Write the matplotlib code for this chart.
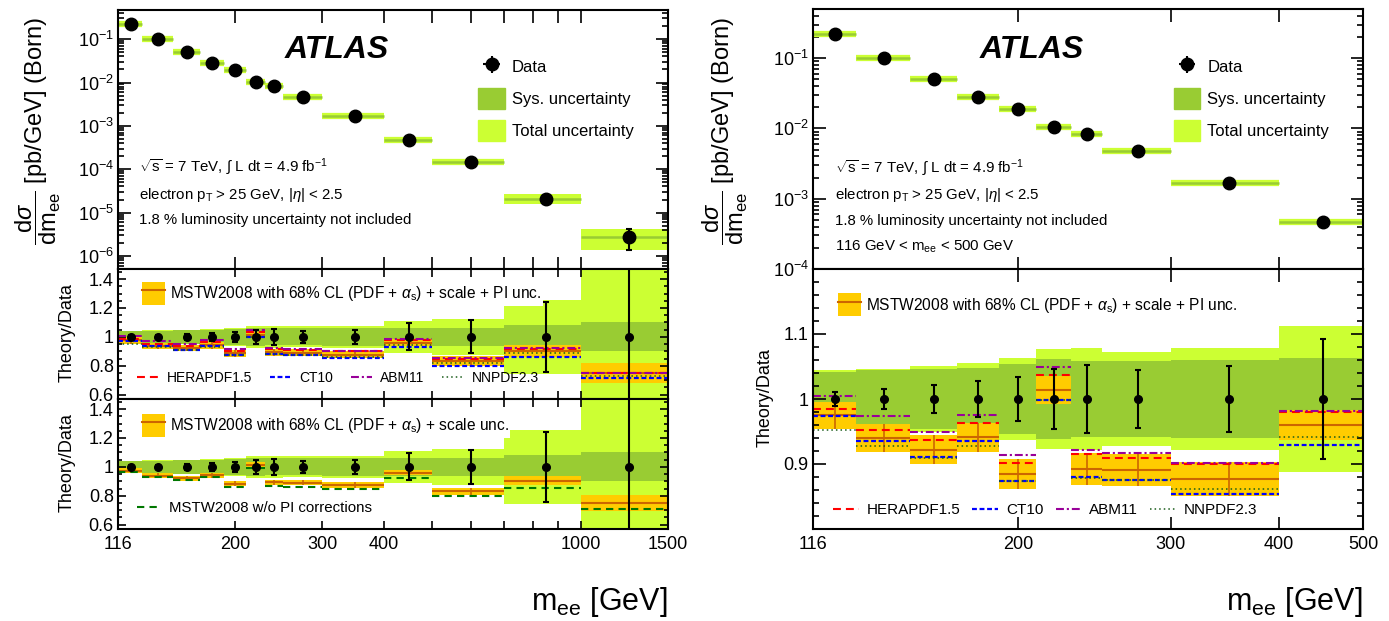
import numpy as np
import matplotlib
matplotlib.use('Agg')
import matplotlib.pyplot as plt
from matplotlib.patches import Patch
from matplotlib.lines import Line2D
from matplotlib.ticker import LogLocator, NullLocator, MultipleLocator, NullFormatter

plt.rcParams['font.family'] = ['Liberation Sans', 'DejaVu Sans']
plt.rcParams['mathtext.fontset'] = 'custom'
plt.rcParams['mathtext.rm'] = 'Liberation Sans'
plt.rcParams['mathtext.it'] = 'Liberation Sans:italic'
plt.rcParams['mathtext.bf'] = 'Liberation Sans:bold'

# bins in m_ee [GeV]
edges = np.array([116, 130, 150, 170, 190, 210, 230, 250, 300, 400, 500, 700, 1000, 1500])

# Born cross section dsigma/dm_ee [pb/GeV]
xsec = np.array([0.22, 0.10, 0.050, 0.028, 0.019, 0.0105, 0.0083, 0.0047, 0.0017,
                 4.7e-4, 1.45e-4, 2.1e-5, 2.8e-6])
# relative uncertainties
stat = np.array([0.011, 0.015, 0.021, 0.028, 0.034, 0.046, 0.053, 0.044, 0.051,
                 0.093, 0.115, 0.24, 0.50])
sys_unc = np.array([0.042, 0.044, 0.046, 0.048, 0.054, 0.062, 0.059, 0.059, 0.060,
                    0.063, 0.062, 0.080, 0.10])
tot_unc = np.array([0.044, 0.046, 0.051, 0.055, 0.063, 0.077, 0.078, 0.072, 0.078,
                    0.112, 0.125, 0.256, 0.52])

# Theory / Data
mstw = np.array([0.975, 0.940, 0.922, 0.941, 0.885, 1.014, 0.892, 0.891, 0.877,
                 0.960, 0.830, 0.905, 0.749])
mstw_pi_unc = np.array([0.021, 0.021, 0.022, 0.022, 0.023, 0.021, 0.025, 0.025, 0.026,
                        0.023, 0.035, 0.041, 0.070])
mstw_scale_unc = np.array([0.018, 0.018, 0.018, 0.018, 0.018, 0.017, 0.019, 0.019, 0.020,
                           0.018, 0.027, 0.031, 0.055])
herapdf = np.array([0.984, 0.953, 0.937, 0.963, 0.902, 1.037, 0.915, 0.910, 0.900,
                    0.980, 0.849, 0.918, 0.751])
ct10 = np.array([0.974, 0.935, 0.911, 0.936, 0.874, 0.999, 0.880, 0.875, 0.854,
                 0.929, 0.800, 0.862, 0.718])
abm11 = np.array([1.004, 0.974, 0.950, 0.976, 0.914, 1.050, 0.921, 0.917, 0.902,
                  0.982, 0.855, 0.925, 0.752])
nnpdf = np.array([0.953, 0.927, 0.910, 0.928, 0.874, 0.998, 0.879, 0.876, 0.862,
                  0.941, 0.822, 0.889, 0.729])
mstw_nopi = np.array([0.967, 0.929, 0.907, 0.931, 0.862, 0.991, 0.869, 0.864, 0.847,
                      0.922, 0.796, 0.856, 0.707])

xticks_L = [116, 200, 300, 400, 500, 600, 700, 800, 900, 1000, 1500]
xlabels_L = ['116', '200', '300', '400', '', '', '', '', '', '1000', '1500']
xticks_R = [116, 200, 300, 400, 500]
xlabels_R = ['116', '200', '300', '400', '500']

c_sys = '#99CC33'
c_tot = '#CCFF33'
c_band = '#FFCC00'
c_line = '#CC6600'

lo = edges[:-1]
hi = edges[1:]
wid = hi - lo
mid = 0.5 * (lo + hi)

pdf_styles = [
    ('HERAPDF1.5', herapdf, '#FF0000', 1.5, (0, (3.8, 2.4))),
    ('CT10', ct10, '#0000FF', 1.6, (0, (2.2, 1.2))),
    ('ABM11', abm11, '#990099', 1.5, (0, (3.8, 1.4, 1.0, 1.4))),
    ('NNPDF2.3', nnpdf, '#1A5C1A', 1.1, (0, (1, 2))),
]

fig = plt.figure(figsize=(13.89, 6.21), dpi=100)
W, H = 1389.0, 621.0


def box(x0, x1, y0, y1):
    return [x0 / W, 1 - y1 / H, (x1 - x0) / W, (y1 - y0) / H]


def style_axis(ax, xmin, xmax, ticks, labels, show_labels, ticklen):
    ax.set_xscale('log')
    ax.set_xlim(xmin, xmax)
    ax.set_xticks(ticks)
    if show_labels:
        ax.set_xticklabels(labels, fontsize=17)
    else:
        ax.set_xticklabels([''] * len(ticks))
    ax.xaxis.set_minor_locator(NullLocator())
    ax.tick_params(axis='both', which='both', direction='in', top=True, right=True,
                   width=1.2, labelsize=13)
    ax.tick_params(axis='both', which='major', length=ticklen)
    ax.tick_params(axis='both', which='minor', length=ticklen / 2)
    ax.tick_params(axis='x', pad=5)
    ax.tick_params(axis='y', pad=3)
    for s in ax.spines.values():
        s.set_linewidth(1.5)


def draw_top(ax, n):
    v = xsec[:n]
    ax.bar(lo[:n], 2 * v * tot_unc[:n], bottom=v * (1 - tot_unc[:n]), width=wid[:n],
           align='edge', color=c_tot, lw=0)
    ax.bar(lo[:n], 2 * v * sys_unc[:n], bottom=v * (1 - sys_unc[:n]), width=wid[:n],
           align='edge', color=c_sys, lw=0)
    ax.hlines(v, lo[:n], hi[:n], color=c_tot, lw=4.5, capstyle='butt')
    ax.hlines(v, lo[:n], hi[:n], color=c_sys, lw=1.8, capstyle='butt')
    ax.errorbar(mid[:n], v, yerr=v * stat[:n], fmt='o', color='k', ms=9,
                elinewidth=1.5, capsize=2.5, capthick=1.5)
    ax.set_yscale('log')
    ax.yaxis.set_major_locator(LogLocator(base=10, numticks=20))
    ax.yaxis.set_minor_locator(LogLocator(base=10, subs=np.arange(2, 10), numticks=20))
    ax.yaxis.set_minor_formatter(NullFormatter())

    hd = ax.errorbar([np.nan], [np.nan], xerr=[1], yerr=[1], fmt='o', color='k', ms=9,
                     elinewidth=1.5)
    handles = [hd, Patch(color=c_sys), Patch(color=c_tot)]
    return handles


def draw_ratio(ax, n, unc, lines):
    ax.bar(lo[:n], 2 * tot_unc[:n], bottom=1 - tot_unc[:n], width=wid[:n],
           align='edge', color=c_tot, lw=0)
    ax.bar(lo[:n], 2 * sys_unc[:n], bottom=1 - sys_unc[:n], width=wid[:n],
           align='edge', color=c_sys, lw=0)
    ax.bar(lo[:n], 2 * unc[:n], bottom=mstw[:n] - unc[:n], width=wid[:n],
           align='edge', color=c_band, lw=0)
    ax.hlines(mstw[:n], lo[:n], hi[:n], color=c_line, lw=1.5, capstyle='butt')
    ax.vlines(mid[:n], mstw[:n] - unc[:n], mstw[:n] + unc[:n], color=c_line, lw=1.2)
    for name, vals, col, lw, ls in lines:
        ax.hlines(vals[:n], lo[:n], hi[:n], color=col, lw=lw, linestyles=[ls],
                  capstyle='butt')
    ax.errorbar(mid[:n], np.ones(n), yerr=stat[:n], fmt='o', color='k', ms=5.5,
                elinewidth=1.5, capsize=2, capthick=1.5)


def mstw_handle():
    return (Patch(facecolor=c_band, edgecolor='none'), Line2D([], [], color=c_line, lw=1.5))


def mstw_legend(ax, label, x, y):
    lg = ax.legend([mstw_handle()], [label], loc='upper left', bbox_to_anchor=(x, y),
                   frameon=True, facecolor='white', edgecolor='none', framealpha=1,
                   fancybox=False, fontsize=11.2, handlelength=1.5, handleheight=1.9,
                   handletextpad=0.3, borderpad=0.1, borderaxespad=0)
    lg.set_zorder(5)
    return lg


info = [r'$\sqrt{\mathrm{s}}$ = 7 TeV, $\int$ L dt = 4.9 fb$^{-1}$',
        r'electron p$_{\mathrm{T}}$ > 25 GeV, |$\eta$| < 2.5',
        '1.8 % luminosity uncertainty not included']
leg_labels = ['Data', 'Sys. uncertainty', 'Total uncertainty']
ylab_top = r'$\dfrac{\mathrm{d}\sigma}{\mathrm{dm}_{\mathrm{ee}}}$ [pb/GeV] (Born)'
mstw_lab_pi = r'MSTW2008 with 68% CL (PDF + $\alpha_{\mathrm{s}}$) + scale + PI unc.'
mstw_lab = r'MSTW2008 with 68% CL (PDF + $\alpha_{\mathrm{s}}$) + scale unc.'

# ---------------- left figure ----------------
XL0, XL1 = 118, 668
axLt = fig.add_axes(box(XL0, XL1, 10, 269))
axLm = fig.add_axes(box(XL0, XL1, 269, 399))
axLb = fig.add_axes(box(XL0, XL1, 399, 529))

h = draw_top(axLt, 13)
axLt.set_ylim(5e-7, 0.47)
style_axis(axLt, 116, 1500, xticks_L, xlabels_L, False, 9)
axLt.text(0.398, 0.846, 'ATLAS', transform=axLt.transAxes, fontsize=23,
          fontweight='bold', fontstyle='italic', ha='center', va='center')
axLt.legend(h, leg_labels, loc='upper left', bbox_to_anchor=(0.655, 0.82),
            frameon=False, fontsize=12, handlelength=1.6, handleheight=1.5,
            labelspacing=0.69, handletextpad=0.4, borderpad=0, borderaxespad=0)
for t, y in zip(info, [167, 195, 220]):
    axLt.text(0.038, 1 - (y - 10) / 259, t, transform=axLt.transAxes, fontsize=10.8,
              va='center', ha='left')

draw_ratio(axLm, 13, mstw_pi_unc, pdf_styles)
draw_ratio(axLb, 13, mstw_scale_unc, [('MSTW2008 w/o PI corrections', mstw_nopi,
                                       '#007700', 1.5, (0, (3.5, 2.5)))])
for ax in (axLm, axLb):
    ax.set_ylim(0.57, 1.47)
    ax.set_yticks([0.6, 0.8, 1.0, 1.2, 1.4], ['0.6', '0.8', '1', '1.2', '1.4'])
    ax.yaxis.set_minor_locator(MultipleLocator(0.05))
style_axis(axLm, 116, 1500, xticks_L, xlabels_L, False, 6)
style_axis(axLb, 116, 1500, xticks_L, xlabels_L, True, 6)

lg = mstw_legend(axLm, mstw_lab_pi, 0.04, 0.915)
axLm.legend([Line2D([], [], color=c, lw=lw, linestyle=ls) for _, _, c, lw, ls in pdf_styles],
            [p[0] for p in pdf_styles], loc='center left', bbox_to_anchor=(0.035, 0.16),
            ncol=4, frameon=False, fontsize=10, handlelength=1.5, handletextpad=0.6,
            columnspacing=1.3, borderpad=0, borderaxespad=0)
axLm.add_artist(lg)

lg3 = mstw_legend(axLb, mstw_lab, 0.04, 0.9)
axLb.legend([Line2D([], [], color='#007700', lw=1.5, linestyle=(0, (3.5, 2.5)))],
            ['MSTW2008 w/o PI corrections'], loc='center left', bbox_to_anchor=(0.035, 0.16),
            frameon=False, fontsize=10.8, handlelength=1.5, handletextpad=0.6,
            borderpad=0, borderaxespad=0)
axLb.add_artist(lg3)

fig.text(38 / W, 1 - 131 / H, ylab_top, rotation=90, fontsize=17, ha='center', va='center')
fig.text(67 / W, 1 - 333 / H, 'Theory/Data', rotation=90, fontsize=13, ha='center', va='center')
fig.text(67 / W, 1 - 463 / H, 'Theory/Data', rotation=90, fontsize=13, ha='center', va='center')
fig.text(XL1 / W, 1 - 602 / H, r'm$_{\mathrm{ee}}$ [GeV]', fontsize=22, ha='right', va='center')

# ---------------- right figure ----------------
XR0, XR1 = 813, 1363
axRt = fig.add_axes(box(XR0, XR1, 9, 269))
axRr = fig.add_axes(box(XR0, XR1, 269, 529))

h = draw_top(axRt, 10)
axRt.set_ylim(1e-4, 0.5)
style_axis(axRt, 116, 500, xticks_R, xlabels_R, False, 9)
axRt.text(0.398, 0.842, 'ATLAS', transform=axRt.transAxes, fontsize=23,
          fontweight='bold', fontstyle='italic', ha='center', va='center')
axRt.legend(h, leg_labels, loc='upper left', bbox_to_anchor=(0.656, 0.817),
            frameon=False, fontsize=12, handlelength=1.6, handleheight=1.5,
            labelspacing=0.69, handletextpad=0.4, borderpad=0, borderaxespad=0)
info_R = info + [r'116 GeV < m$_{\mathrm{ee}}$ < 500 GeV']
for t, y in zip(info_R, [168, 195, 221, 247]):
    axRt.text(0.04, 1 - (y - 9) / 260, t, transform=axRt.transAxes, fontsize=10.8,
              va='center', ha='left')

draw_ratio(axRr, 10, mstw_pi_unc, pdf_styles)
axRr.set_ylim(0.8, 1.2)
axRr.set_yticks([0.9, 1.0, 1.1], ['0.9', '1', '1.1'])
axRr.yaxis.set_minor_locator(MultipleLocator(0.02))
style_axis(axRr, 116, 500, xticks_R, xlabels_R, True, 9)

lg = mstw_legend(axRr, mstw_lab_pi, 0.042, 0.912)
axRr.legend([Line2D([], [], color=c, lw=lw, linestyle=ls) for _, _, c, lw, ls in pdf_styles],
            [p[0] for p in pdf_styles], loc='center left', bbox_to_anchor=(0.036, 0.073),
            ncol=4, frameon=False, fontsize=11, handlelength=1.7, handletextpad=0.5,
            columnspacing=0.8, borderpad=0, borderaxespad=0)
axRr.add_artist(lg)

fig.text(725 / W, 1 - 131 / H, ylab_top, rotation=90, fontsize=17, ha='center', va='center')
fig.text(765 / W, 1 - 398 / H, 'Theory/Data', rotation=90, fontsize=13, ha='center', va='center')
fig.text(XR1 / W, 1 - 602 / H, r'm$_{\mathrm{ee}}$ [GeV]', fontsize=22, ha='right', va='center')

fig.savefig('out.png', dpi=100)
